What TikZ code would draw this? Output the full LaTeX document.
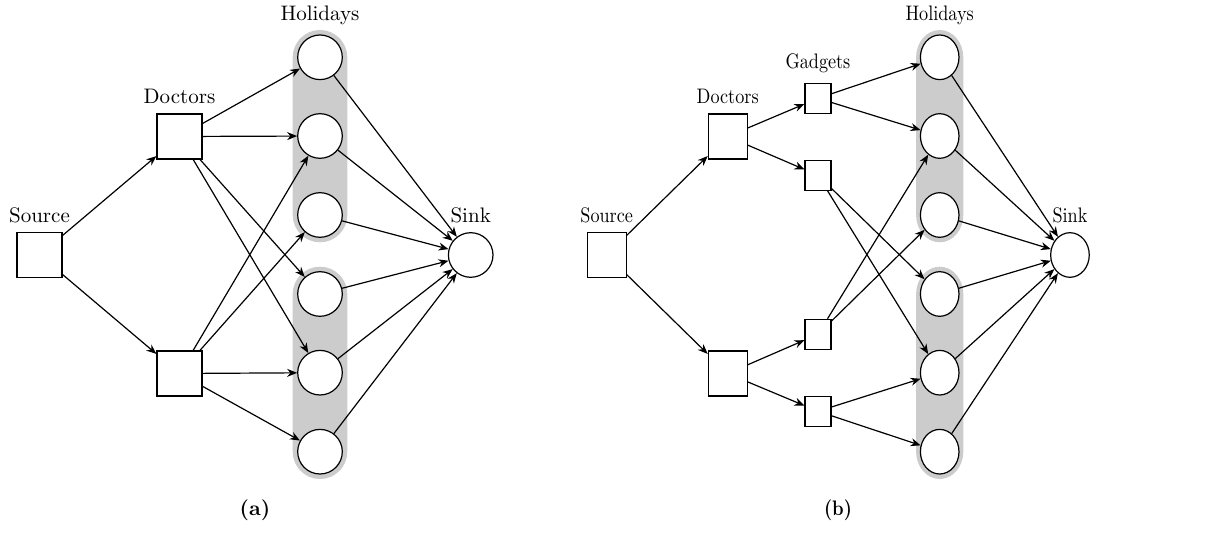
\documentclass[tikz,border=0pt]{standalone}
\usepackage{tikz}
\usetikzlibrary{arrows.meta, positioning}

% grey band behind a column of holidays: x, top y, bottom y
\newcommand{\holbar}[3]{%
  \fill[barfill] (#1-27.3,#2) arc[start angle=180, end angle=360, radius=27.3]
    -- (#1+27.3,#3) arc[start angle=0, end angle=180, radius=27.3] -- cycle;}

\begin{document}
\begin{tikzpicture}[
    x=0.5pt, y=-0.5pt,
    >={Stealth[length=5pt, width=4pt]},
    every node/.style={font=\fontsize{10.5}{12}\selectfont},
    every label/.style={inner sep=1.5pt},
    label distance=3pt,
    box/.style={rectangle, draw, fill=white, line width=0.6pt, inner sep=0pt, minimum size=22.5pt},
    gadget/.style={rectangle, draw, fill=white, line width=0.6pt, inner sep=0pt, minimum size=15pt},
    holiday/.style={circle, draw, fill=white, line width=0.6pt, inner sep=0pt, minimum size=22.3pt},
    link/.style={->, line width=0.6pt},
    barfill/.style={fill=black!20}
]
\useasboundingbox (0,0) rectangle (1217,550);

% (a)
\holbar{320}{57.3}{215}
\holbar{320}{294}{451.7}

\node[box, label=above:Source] (srcA) at (39.5,255) {};
\node[box, label=above:Doctors] (docA1) at (179.5,136.5) {};
\node[box] (docA2) at (179.5,373.5) {};
\foreach \i/\y in {1/57.3, 2/136, 3/215, 4/294, 5/372.7, 6/451.7}
  \node[holiday] (holA\i) at (320,\y) {};
\node[above=3pt of holA1, inner sep=1.5pt] (holtagA) {Holidays};
\node[holiday, label=above:Sink] (sinkA) at (470.7,255) {};

\foreach \s/\t in {srcA/docA1, srcA/docA2,
    docA1/holA1, docA1/holA2, docA1/holA4, docA1/holA5,
    docA2/holA2, docA2/holA3, docA2/holA5, docA2/holA6}
  \draw[link] (\s) -- (\t);
\foreach \i in {1,...,6}
  \draw[link] (holA\i) -- (sinkA);

\node (capA) at (255,510) {\textbf{(a)}};

% (b)
\begin{scope}[shift={(570,0)}, xscale=0.865, transform shape]
\holbar{427.4}{57.3}{215}
\holbar{427.4}{294}{451.7}

\node[box, label=above:Source] (srcB) at (42.4,255) {};
\node[box, label=above:Doctors] (docB1) at (182.3,136.5) {};
\node[box] (docB2) at (182.3,373.5) {};
\foreach \i/\y in {1/98.3, 2/175.3, 3/334.3, 4/411.3}
  \node[gadget] (gadB\i) at (286.7,\y) {};
\node[above=3pt of gadB1, inner sep=1.5pt] (gadtagB) {Gadgets};
\foreach \i/\y in {1/57.3, 2/136, 3/215, 4/294, 5/372.7, 6/451.7}
  \node[holiday] (holB\i) at (427.4,\y) {};
\node[above=3pt of holB1, inner sep=1.5pt] (holtagB) {Holidays};
\node[holiday, label=above:Sink] (sinkB) at (578,255) {};

\foreach \s/\t in {srcB/docB1, srcB/docB2,
    docB1/gadB1, docB1/gadB2, docB2/gadB3, docB2/gadB4,
    gadB1/holB1, gadB1/holB2, gadB2/holB4, gadB2/holB5,
    gadB3/holB2, gadB3/holB3, gadB4/holB5, gadB4/holB6}
  \draw[link] (\s) -- (\t);
\foreach \i in {1,...,6}
  \draw[link] (holB\i) -- (sinkB);

\node (capB) at (309.8,510) {\textbf{(b)}};
\end{scope}

\end{tikzpicture}
\end{document}
